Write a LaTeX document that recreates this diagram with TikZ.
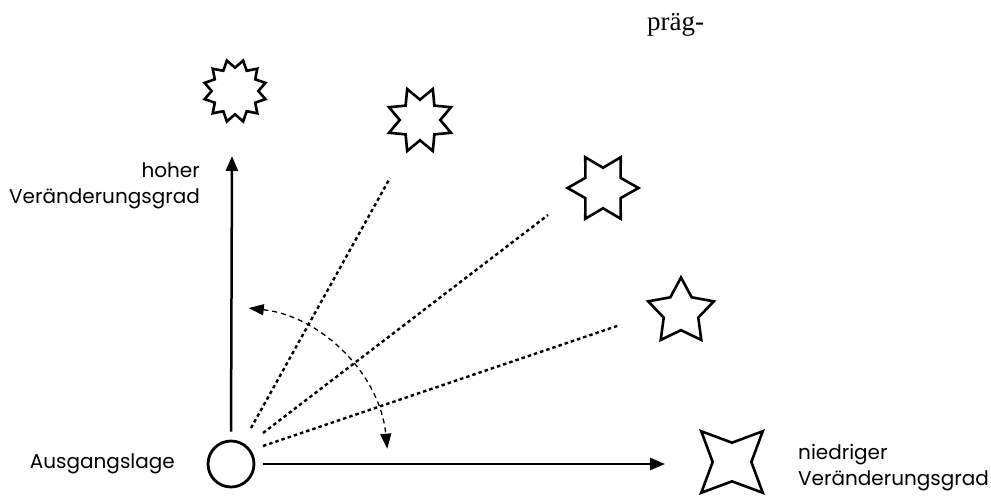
\documentclass[tikz,border=0pt]{standalone}
\usepackage{fontspec}
\setmainfont{Poppins}
\newfontfamily\serifface{Liberation Serif}
\usetikzlibrary{shapes.geometric,arrows.meta}
\begin{document}
\begin{tikzpicture}[x=1pt,y=-1pt,
  starshape/.style={star, draw, line width=2.6pt, inner sep=0pt, outer sep=0pt},
  lbl/.style={font=\fontsize{20}{26}\selectfont, inner sep=0pt},
  axis/.style={line width=2.5pt, -{Triangle[length=15pt,width=12pt]}},
  dotline/.style={line width=2.4pt, dash pattern=on 3.5pt off 3pt},
  swing/.style={line width=1.3pt, dash pattern=on 5pt off 4pt,
    {Triangle[length=15pt,width=11pt]}-{Triangle[length=15pt,width=11pt]}}]
\useasboundingbox (0,0) rectangle (991,496);
% labels
\node[lbl, anchor=base east] (h1) at (200,177) {hoher};
\node[lbl, anchor=base east] (h2) at (200,203) {Veränderungsgrad};
\node[lbl, anchor=base east] (aus) at (175,468) {Ausgangslage};
\node[lbl, anchor=base west] (n1) at (798,459) {niedriger};
\node[lbl, anchor=base west] (n2) at (798,485) {Veränderungsgrad};
\node[font=\serifface\fontsize{27}{30}\selectfont, anchor=base west, inner sep=0pt] (pr) at (647,30) {präg-};
% origin
\node[circle, draw, line width=2.8pt, minimum size=46pt, inner sep=0pt] (o) at (231,464) {};
% stars
\node[starshape, star points=12, star point ratio=1.35, minimum size=63pt, shape border rotate=15] (s12) at (235,91) {};
\node[starshape, star points=8, star point ratio=1.65, minimum size=67pt, shape border rotate=22.5] (s8) at (420,120) {};
\node[starshape, star points=6, star point ratio=1.75, minimum size=71pt, shape border rotate=30] (s6) at (603,188) {};
\node[starshape, star points=5, star point ratio=1.9, minimum size=69pt] (s5) at (681,312) {};
\node[starshape, star points=4, star point ratio=2.25, minimum size=87pt, shape border rotate=45] (s4) at (732,462) {};
% axes
\coordinate (vt) at (232,156);
\coordinate (he) at (665,464);
\draw[axis, shorten <=8pt] (o.north) -- (vt);
\draw[axis, shorten <=8pt] (o.east) -- (he);
% dotted lines
\coordinate (d1s) at (251,428); \coordinate (d1e) at (390,178);
\coordinate (d2s) at (263,433); \coordinate (d2e) at (548,215);
\coordinate (d3s) at (263,446); \coordinate (d3e) at (620,325);
\draw[dotline] (d1s) -- (d1e);
\draw[dotline] (d2s) -- (d2e);
\draw[dotline] (d3s) -- (d3e);
% swing arc
\draw[swing] (o.center) ++(-83.5:157) arc[start angle=-83.5, end angle=-5.6, radius=157];
\end{tikzpicture}
\end{document}
